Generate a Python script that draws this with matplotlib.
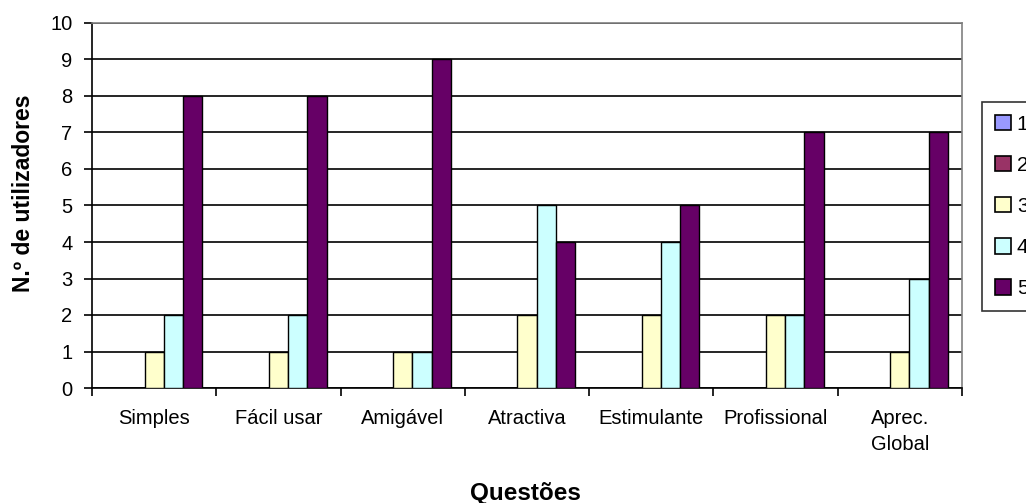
import matplotlib

matplotlib.use("Agg")
import matplotlib.pyplot as plt
import numpy as np
from matplotlib.patches import Patch

categories = ["Simples", "Fácil usar", "Amigável", "Atractiva", "Estimulante", "Profissional", "Aprec.\nGlobal"]
series_names = ["1", "2", "3", "4", "5"]
s1 = [0, 0, 0, 0, 0, 0, 0]
s2 = [0, 0, 0, 0, 0, 0, 0]
s3 = [1, 1, 1, 2, 2, 2, 1]
s4 = [2, 2, 1, 5, 4, 2, 3]
s5 = [8, 8, 9, 4, 5, 7, 7]
colors = ["#9999FF", "#993366", "#FFFFCC", "#CCFFFF", "#660066"]

plt.rcParams["font.family"] = ["Liberation Sans", "DejaVu Sans"]

W, H = 1026, 503
fig = plt.figure(figsize=(W / 100, H / 100), dpi=100)
ax = fig.add_axes([92 / W, (H - 388) / H, (962 - 92) / W, (388 - 23) / H])

x = np.arange(len(categories))
width = 0.155
all_series = [s1, s2, s3, s4, s5]
for i, vals in enumerate(all_series):
    ax.bar(x + (i - 2) * width, vals, width, color=colors[i], edgecolor="black", linewidth=1, zorder=3)

ax.set_xlim(-0.5, len(categories) - 0.5)
ax.set_ylim(0, 10)
ax.set_yticks(range(0, 11))
ax.tick_params(axis="y", labelsize=14.5, length=6, direction="out", width=1.2, pad=8)
ax.set_xticks(x)
ax.set_xticklabels(categories, fontsize=14.5, linespacing=1.45, va="top")
ax.tick_params(axis="x", length=0, pad=15)
ax.set_xticks(np.arange(-0.5, len(categories)), minor=True)
ax.tick_params(axis="x", which="minor", length=6, width=1.2, direction="out")
ax.yaxis.grid(True, color="black", linewidth=1.2, zorder=0)

for side in ["top", "right"]:
    ax.spines[side].set_color("#808080")
    ax.spines[side].set_linewidth(1.2)
ax.spines["left"].set_linewidth(1.2)
ax.spines["bottom"].set_linewidth(1.2)

fig.text(24 / W, (H - 193) / H, "N.º de utilizadores", rotation=90, ha="center", va="center",
         fontsize=16.5, fontweight="bold")
fig.text(525 / W, 3 / H, "Questões", ha="center", va="baseline", fontsize=17.5, fontweight="bold")

handles = [Patch(facecolor=c, edgecolor="black", linewidth=1.2) for c in colors]
leg = fig.legend(handles, series_names, loc="upper left", bbox_to_anchor=(982 / W, (H - 102) / H),
                 borderaxespad=0, fontsize=15, frameon=True, fancybox=False, edgecolor="black",
                 handlelength=0.75, handleheight=0.75, handletextpad=0.3,
                 labelspacing=1.06, borderpad=0.62)
leg.get_frame().set_linewidth(1.2)

fig.savefig("out.png", dpi=100)
